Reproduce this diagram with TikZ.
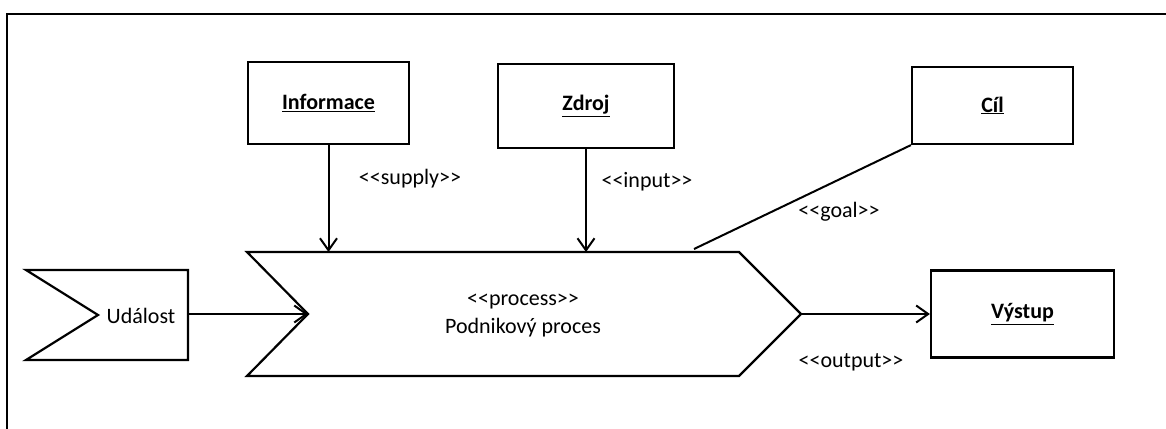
\documentclass[tikz,border=0pt]{standalone}
\usepackage{fontspec}
\setmainfont{Carlito}[Ligatures=TeXOff]
\usetikzlibrary{positioning, arrows.meta}
\newcommand{\stereotype}[1]{<<#1>>}

\begin{document}
\begin{tikzpicture}[
  x=1pt, y=-1pt,
  every node/.style={font=\fontsize{22}{28}\selectfont},
  thing/.style={draw, line width=2.2pt, inner sep=0pt, font=\fontsize{22}{28}\selectfont\bfseries},
  shapeline/.style={draw, line width=2.2pt, line join=miter},
  arrow/.style={-{Straight Barb[length=12pt, width=17pt, line width=2pt]}, line width=2pt},
  link/.style={line width=2pt},
  stereo/.style={inner sep=0pt},
]
  \useasboundingbox (0,0) rectangle (1166,428);
  % Frame
  \draw[line width=2.4pt] (7,430) -- (7,14) -- (1170,14);

  % Event
  \coordinate (evt_notch) at (98,315);
  \coordinate (evt_east) at (188,314);
  \draw[shapeline] (26,270) -- (188,270) -- (188,360) -- (26,360) -- (evt_notch) -- cycle;
  \node[stereo] (evt) at (141,316) {Událost};

  % Process
  \coordinate (proc_notch) at (308,314);
  \coordinate (proc_tip) at (801,314);
  \coordinate (proc_top) at (500,252);
  \draw[shapeline] (247,252) -- (739,252) -- (proc_tip) -- (739,376) -- (247,376)
    -- (proc_notch) -- cycle;
  \node[stereo, align=center] (proc) at (523,316)
    {\stereotype{process}\\Podnikový proces};

  % Objects
  \node[thing, minimum width=161pt, minimum height=82pt] (info) at (328.5,103)
    {\underline{Informace}};
  \node[thing, minimum width=176pt, minimum height=84pt] (zdroj) at (586,106)
    {\underline{Zdroj}};
  \node[thing, minimum width=161pt, minimum height=77pt] (cil) at (992.5,105.5)
    {\underline{Cíl}};
  \node[thing, minimum width=183pt, minimum height=87pt] (vystup) at (1022.5,314)
    {\underline{Výstup}};

  % Connectors
  \draw[arrow] (evt_east) -- (proc_notch);
  \draw[arrow] (info.south) -- (info.south |- proc_top);
  \draw[arrow] (zdroj.south) -- (zdroj.south |- proc_top);
  \coordinate (goal_end) at (694,249);
  \draw[link] (cil.south west) -- (goal_end);
  \draw[arrow] (proc_tip) -- (vystup.west);

  % Labels
  \node[stereo] (l_supply) at (410,179) {\stereotype{supply}};
  \node[stereo] (l_input) at (647,182) {\stereotype{input}};
  \node[stereo] (l_goal) at (839,212) {\stereotype{goal}};
  \node[stereo] (l_output) at (851,362) {\stereotype{output}};
\end{tikzpicture}
\end{document}
